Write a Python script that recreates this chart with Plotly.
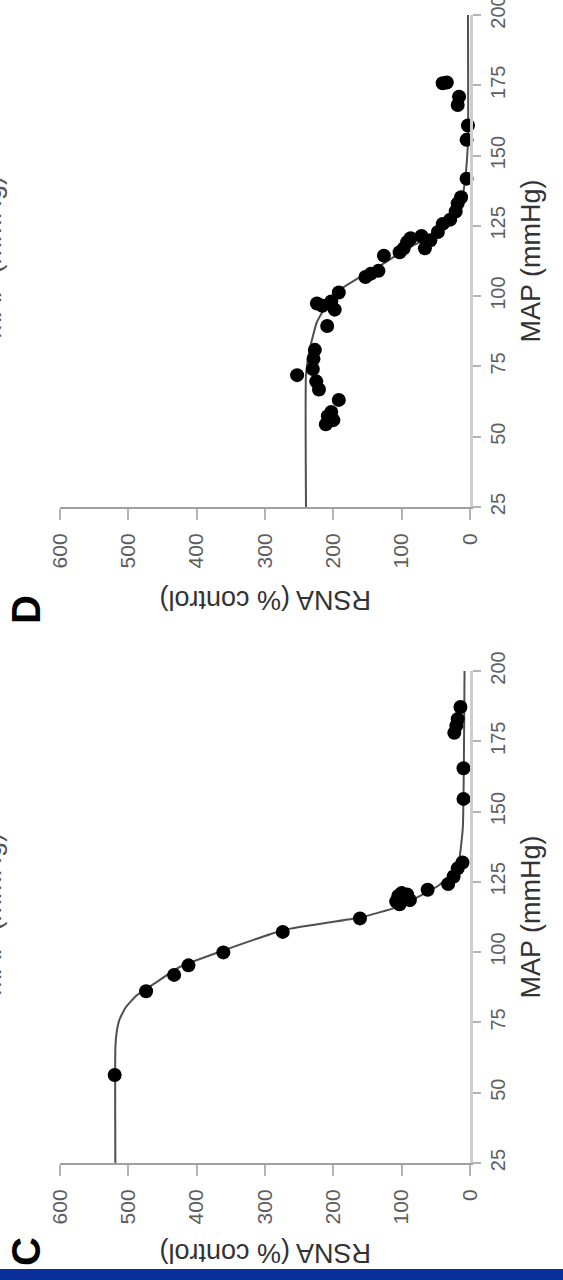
import plotly.graph_objects as go

# ---------------- data ----------------
# Panel C: measured points (MAP mmHg, RSNA % control)
c_map = [56.3, 86.1, 91.9, 95.3, 99.9, 107.2, 112.0, 118.0, 120.0, 121.0, 119.0, 120.5,
         118.5, 117.0, 122.2, 124.2, 126.9, 129.8, 131.9, 154.5, 165.4, 178.0, 180.5,
         182.9, 187.2]
c_rsna = [520, 474, 433, 412, 361, 274, 161, 108, 105, 100, 95, 92,
          88, 103, 62, 32, 24, 18, 11, 9.5, 9.5, 23, 20,
          18, 14]
# Panel C: fitted curve
c_fit_map = [25, 65.7, 71.6, 76.0, 80.3, 84.6, 89.0, 94.8, 100.6, 107.9, 112.3, 115.9, 120.3,
             123.9, 128.3, 132.6, 144.3, 200]
c_fit_rsna = [519, 519, 517, 513, 504, 488, 461, 424, 361, 272, 161, 108, 71,
              45, 24, 16, 10.5, 8]

# Panel D: measured points
d_map = [71.9, 74.1, 69.7, 66.8, 77.7, 80.9, 54.4, 57.3, 55.9, 58.8, 63.1, 89.4,
         97.4, 96.6, 95.2, 98.1, 101.3, 106.8, 108.0, 109.0, 114.4, 115.6, 117.0,
         119.2, 120.6, 121.4, 117.0, 119.9, 122.8, 125.7, 127.2, 130.1, 133.0, 135.2,
         141.8, 155.6, 160.7, 170.9, 168.0, 175.7, 176.0]
d_rsna = [253, 230, 225, 221, 229, 227, 211, 208, 200, 203, 192, 209,
          224, 216, 198, 203, 192, 153, 145, 134, 126, 103, 97,
          92, 87, 71, 66, 58, 47, 40, 29, 21, 18, 13,
          5, 5, 3, 16, 18, 40, 34]
# Panel D: fitted curve
d_fit_map = [25, 72, 80.6, 90.8, 101.0, 106.8, 111.2, 117.0, 121.4, 126.5, 133.0, 141.8,
             154.9, 200]
d_fit_rsna = [240, 240, 235, 224, 198, 161, 129, 92, 55, 29, 13, 7,
              3, 3]

rsna_ticks = [0, 100, 200, 300, 400, 500, 600]
map_ticks = [25, 50, 75, 100, 125, 150, 175, 200]

# ---------------- figure ----------------
FONT = "Liberation Sans, Arial, sans-serif"
W, H = 563, 1280
ML, MR, MT, MB = 60, 93, 15, 117

fig = go.Figure()

def add_panel(fmap, frsna, pmap, prsna, xa, ya):
    fig.add_trace(go.Scatter(x=frsna, y=fmap, mode="lines",
                             line=dict(color="#505050", width=2, shape="spline",
                                       smoothing=0.4),
                             xaxis=xa, yaxis=ya, showlegend=False,
                             cliponaxis=False, hoverinfo="skip"))
    fig.add_trace(go.Scatter(x=prsna, y=pmap, mode="markers",
                             marker=dict(color="black", size=14),
                             xaxis=xa, yaxis=ya, showlegend=False,
                             cliponaxis=False))

add_panel(d_fit_map, d_fit_rsna, d_map, d_rsna, "x", "y")
add_panel(c_fit_map, c_fit_rsna, c_map, c_rsna, "x2", "y2")

ph = H - MT - MB
top_dom = [(1163 - 507) / ph, 1.0]
bot_dom = [0.0, (1163 - 671) / ph]

xcommon = dict(range=[600, 0], autorange=False, tickvals=rsna_ticks,
               tickangle=-90, ticks="outside", ticklen=11, tickwidth=2,
               tickcolor="#b4b4b4", showline=True, linecolor="#a0a0a0",
               linewidth=2, showgrid=False, zeroline=False,
               tickfont=dict(family=FONT, size=21, color="#5e5e5e"),
               ticklabelstandoff=5, ticklabeloverflow="allow", fixedrange=True)
ycommon = dict(range=[25, 200], autorange=False, tickvals=map_ticks,
               side="right", tickangle=-90, ticks="outside", ticklen=8,
               tickwidth=2, tickcolor="#b4b4b4", showline=True,
               linecolor="#cdcdcd", linewidth=3, showgrid=False,
               zeroline=False, ticklabeloverflow="allow",
               tickfont=dict(family=FONT, size=20, color="#5e5e5e"),
               title=dict(text="MAP (mmHg)",
                          font=dict(family=FONT, size=27, color="#333333"),
                          standoff=14),
               automargin=False, fixedrange=True)

fig.update_layout(
    width=W, height=H,
    margin=dict(l=ML, r=MR, t=MT, b=MB),
    paper_bgcolor="white", plot_bgcolor="white",
    xaxis=dict(xcommon, anchor="y", domain=[0, 1]),
    yaxis=dict(ycommon, anchor="x", domain=top_dom),
    xaxis2=dict(xcommon, anchor="y2", domain=[0, 1]),
    yaxis2=dict(ycommon, anchor="x2", domain=bot_dom),
)

def py(pix):
    return (H - MB - pix) / ph

def px(pix):
    return (pix - ML) / (W - ML - MR)

annots = []
for ycen in (600, 1253):
    annots.append(dict(text="RSNA (% control)", textangle=180, showarrow=False,
                       xref="paper", yref="paper", x=px(265), y=py(ycen),
                       xanchor="center", yanchor="middle",
                       font=dict(family=FONT, size=27, color="#333333")))
for lab, ycen in (("D", 610), ("C", 1252)):
    annots.append(dict(text="<b>" + lab + "</b>", textangle=-90, showarrow=False,
                       xref="paper", yref="paper", x=px(26), y=py(ycen),
                       xanchor="center", yanchor="middle",
                       font=dict(family=FONT, size=40, color="black")))
# cut-off axis titles of the neighbouring panels at the left edge
for ycen in (258, 915):
    annots.append(dict(text="MAP (mmHg)", textangle=-90, showarrow=False,
                       xref="paper", yref="paper", x=px(-8), y=py(ycen),
                       xanchor="center", yanchor="middle",
                       font=dict(family=FONT, size=27, color="#555555")))
fig.update_layout(annotations=annots)

# blue band at the bottom edge
fig.add_shape(type="rect", xref="paper", yref="paper",
              x0=px(-5), x1=px(W + 5), y0=py(1285), y1=py(1269),
              fillcolor="#0a2f9a", line=dict(width=0), layer="above")

fig.write_html("out.html",
               config={"displayModeBar": False, "staticPlot": True},
               post_script="document.body.style.margin='0';"
                           "document.body.style.overflow='hidden';")
